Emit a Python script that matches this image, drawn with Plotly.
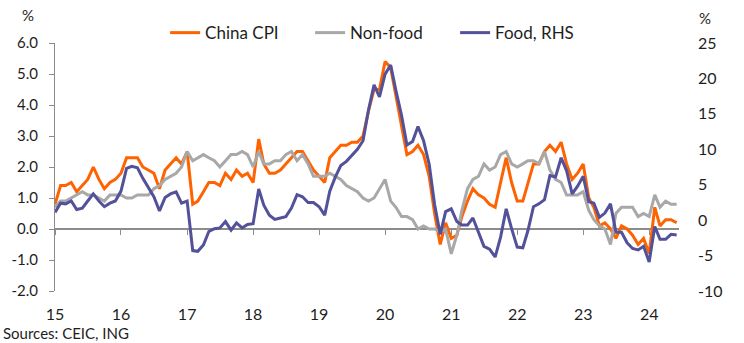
import pandas as pd
import plotly.graph_objects as go

# Monthly series, Jan 2015 - Jun 2024 (% YoY)
china_cpi = [
    0.8, 1.4, 1.4, 1.5, 1.2, 1.4, 1.6, 2.0, 1.6, 1.3, 1.5, 1.6,
    1.8, 2.3, 2.3, 2.3, 2.0, 1.9, 1.8, 1.3, 1.9, 2.1, 2.3, 2.1,
    2.5, 0.8, 0.9, 1.2, 1.5, 1.5, 1.4, 1.8, 1.6, 1.9, 1.7, 1.8,
    1.5, 2.9, 2.1, 1.8, 1.8, 1.9, 2.1, 2.3, 2.5, 2.5, 2.2, 1.9,
    1.7, 1.5, 2.3, 2.5, 2.7, 2.7, 2.8, 2.8, 3.0, 3.8, 4.5, 4.5,
    5.4, 5.2, 4.3, 3.3, 2.4, 2.5, 2.7, 2.4, 1.7, 0.5, -0.5, 0.2,
    -0.3, -0.2, 0.4, 0.9, 1.3, 1.1, 1.0, 0.8, 0.7, 1.5, 2.3, 1.5,
    0.9, 0.9, 1.5, 2.1, 2.1, 2.5, 2.7, 2.5, 2.8, 2.1, 1.6, 1.8,
    2.1, 1.0, 0.7, 0.1, 0.2, 0.0, -0.3, 0.1, 0.0, -0.2, -0.5, -0.3,
    -0.8, 0.7, 0.1, 0.3, 0.3, 0.2,
]
non_food = [
    0.7, 0.9, 0.9, 1.0, 1.1, 1.2, 1.1, 1.1, 1.0, 0.9, 1.1, 1.1,
    1.1, 1.0, 1.0, 1.1, 1.1, 1.1, 1.3, 1.4, 1.6, 1.7, 1.8, 2.0,
    2.5, 2.2, 2.3, 2.4, 2.3, 2.2, 2.0, 2.2, 2.4, 2.4, 2.5, 2.4,
    2.0, 2.5, 2.1, 2.1, 2.2, 2.2, 2.4, 2.5, 2.2, 2.4, 2.1, 1.7,
    1.7, 1.7, 1.8, 1.7, 1.6, 1.4, 1.3, 1.2, 1.0, 0.9, 1.0, 1.3,
    1.6, 0.9, 0.7, 0.4, 0.4, 0.3, 0.0, 0.1, 0.0, 0.0, -0.1, 0.0,
    -0.8, -0.2, 0.6, 1.3, 1.6, 1.7, 2.1, 1.9, 2.0, 2.4, 2.5, 2.1,
    2.0, 2.1, 2.2, 2.2, 2.1, 2.5, 1.9, 1.6, 1.5, 1.1, 1.1, 1.1,
    1.2, 0.6, 0.3, 0.1, 0.0, -0.5, 0.5, 0.7, 0.7, 0.7, 0.4, 0.5,
    0.4, 1.1, 0.7, 0.9, 0.8, 0.8,
]
food = [
    1.1, 2.4, 2.3, 2.7, 1.5, 1.7, 2.7, 3.7, 2.7, 1.9, 2.4, 2.7,
    4.1, 7.3, 7.6, 7.4, 5.9, 4.6, 3.3, 1.3, 3.2, 3.7, 4.0, 2.4,
    2.7, -4.3, -4.4, -3.5, -1.6, -1.2, -1.1, -0.2, -1.4, -0.4, -1.1, -0.6,
    -0.5, 4.4, 2.1, 0.7, 0.1, 0.3, 0.5, 1.7, 3.6, 3.3, 2.5, 2.5,
    1.9, 0.7, 4.1, 6.1, 7.7, 8.3, 9.1, 10.0, 11.2, 15.5, 19.1, 17.4,
    20.6, 21.9, 18.3, 14.8, 10.6, 11.1, 13.2, 11.2, 7.9, 2.2, -2.0, 1.2,
    1.6, -0.2, -0.7, -0.7, 0.3, -1.7, -3.7, -4.1, -5.2, -2.4, 1.6, -1.2,
    -3.8, -3.9, -1.5, 1.9, 2.3, 2.9, 6.3, 6.1, 8.8, 7.0, 3.7, 4.8,
    6.2, 2.6, 2.4, 0.4, 1.0, 2.3, -1.7, -1.7, -3.2, -4.0, -4.2, -3.7,
    -5.9, -0.9, -2.7, -2.7, -2.0, -2.1,
]

dates = pd.date_range("2015-01-01", periods=len(china_cpi), freq="MS")

year_ticks = pd.date_range("2015-01-01", "2024-01-01", freq="YS")
year_labels = [d.strftime("%y") for d in year_ticks]
left_ticks = [-2, -1, 0, 1, 2, 3, 4, 5, 6]
left_labels = [f"{v:.1f}" for v in left_ticks]
right_ticks = [-10, -5, 0, 5, 10, 15, 20, 25]
right_labels = [str(v) for v in right_ticks]

ORANGE = "#FF6200"
GREY = "#A8A8A8"
INDIGO = "#525199"
AXIS = "#8C8C8C"
TEXT = "#1E1E1E"
FONT = "Lato"

x_range = ["2015-01-01", "2024-06-14"]

fig = go.Figure()
fig.add_trace(go.Scatter(x=dates, y=china_cpi, name="China CPI", mode="lines",
                         line=dict(color=ORANGE, width=3)))
fig.add_trace(go.Scatter(x=dates, y=non_food, name="Non-food", mode="lines",
                         line=dict(color=GREY, width=3)))
fig.add_trace(go.Scatter(x=dates, y=food, name="Food, RHS", mode="lines",
                         line=dict(color=INDIGO, width=3),
                         xaxis="x2", yaxis="y2"))

fig.update_layout(
    width=744, height=343,
    margin=dict(l=55, r=65, t=43, b=52),
    paper_bgcolor="white", plot_bgcolor="white",
    font=dict(family=FONT, size=15, color=TEXT),
    showlegend=True,
    legend=dict(orientation="h", x=0.525, xanchor="center", y=1.04, yanchor="middle",
                font=dict(size=17, color=TEXT), bgcolor="rgba(0,0,0,0)",
                traceorder="normal", entrywidth=100, entrywidthmode="pixels"),
    xaxis=dict(type="date", range=x_range, tickvals=list(year_ticks), ticktext=year_labels,
               showgrid=False, zeroline=False, showline=False, ticks="",
               ticklabelstandoff=12, tickfont=dict(size=16)),
    xaxis2=dict(type="date", range=x_range, overlaying="x", anchor="free", position=0.25,
                tickvals=list(year_ticks), showticklabels=False, ticks="outside",
                ticklen=5, tickwidth=1, tickcolor=AXIS, showgrid=False,
                zeroline=False, showline=False),
    yaxis=dict(range=[-2, 6], tickvals=left_ticks, ticktext=left_labels,
               showgrid=False, showline=True, linecolor=AXIS, linewidth=1,
               ticks="outside", ticklen=5, tickcolor=AXIS,
               zeroline=True, zerolinecolor=AXIS, zerolinewidth=1.5,
               ticklabelstandoff=8, tickfont=dict(size=15)),
    yaxis2=dict(range=[-10, 25], tickvals=right_ticks, ticktext=right_labels,
                overlaying="y", side="right", anchor="x2", showgrid=False,
                zeroline=False, showline=False, ticks="",
                ticklabelstandoff=18, tickfont=dict(size=16)),
    annotations=[
        dict(text="%", xref="paper", yref="paper", x=-0.043, y=1.113,
             xanchor="center", yanchor="middle", showarrow=False, font=dict(size=15)),
        dict(text="%", xref="paper", yref="paper", x=1.042, y=1.10,
             xanchor="center", yanchor="middle", showarrow=False, font=dict(size=15)),
        dict(text="Sources: CEIC, ING", xref="paper", yref="paper", x=-0.0865, y=-0.17,
             xanchor="left", yanchor="middle", showarrow=False, font=dict(size=15)),
    ],
)

fig.write_html("out.html")
